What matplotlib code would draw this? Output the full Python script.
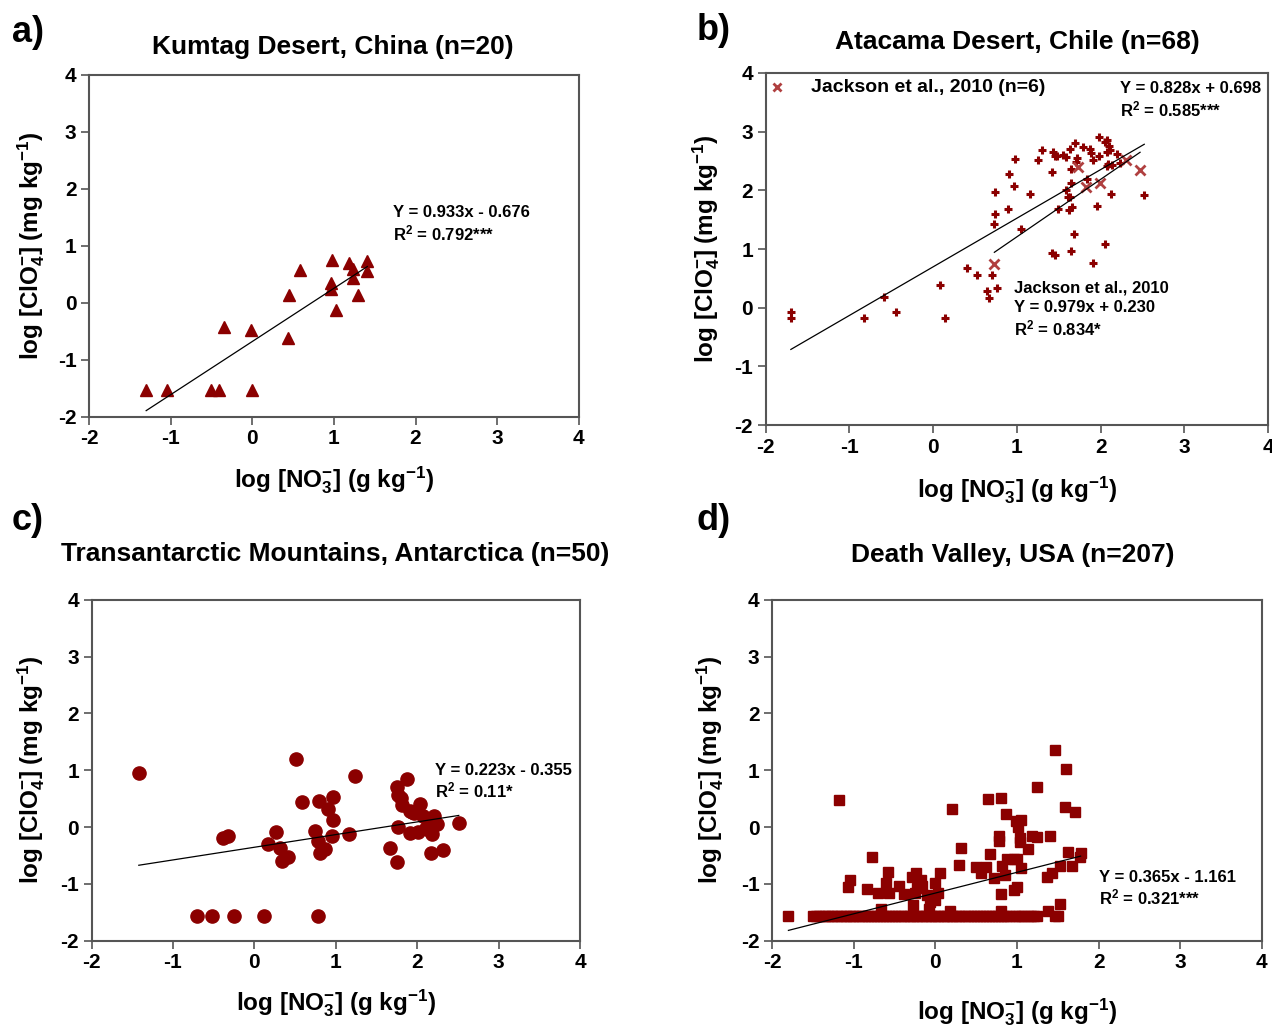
import matplotlib
matplotlib.use("Agg")
import matplotlib.pyplot as plt
import numpy as np

plt.rcParams['font.family'] = ['Liberation Sans', 'DejaVu Sans']
plt.rcParams['font.weight'] = 'bold'
plt.rcParams['mathtext.fontset'] = 'custom'
plt.rcParams['mathtext.rm'] = 'Liberation Sans:bold'
plt.rcParams['mathtext.it'] = 'Liberation Sans:bold'
plt.rcParams['mathtext.bf'] = 'Liberation Sans:bold'
plt.rcParams['mathtext.default'] = 'rm'

RED = '#8b0000'
XRED = '#b04040'
SPINE = '#555555'

# a) Kumtag Desert
kum_x = [-1.30, -1.05, -0.51, -0.41, 0.00, -0.35, -0.02, 0.44, 0.45, 0.59,
         0.98, 0.96, 0.97, 1.02, 1.19, 1.24, 1.23, 1.29, 1.40, 1.41]
kum_y = [-1.53, -1.53, -1.53, -1.53, -1.53, -0.42, -0.48, -0.61, 0.14, 0.58,
         0.75, 0.35, 0.25, -0.12, 0.70, 0.59, 0.43, 0.14, 0.73, 0.56]
kum_fit = (0.933, -0.676)

# b) Atacama Desert
ata_x = [-1.70, -1.70, -0.83, -0.59, -0.45, 0.08, 0.14, 0.40, 0.52, 0.70,
         0.64, 0.67, 0.76, 0.74, 0.74, 0.72, 0.89, 0.90, 0.96, 0.98,
         1.05, 1.16, 1.25, 1.30, 1.42, 1.43, 1.46, 1.48, 1.55, 1.58,
         1.63, 1.69, 1.70, 1.64, 1.64, 1.58, 1.63, 1.61, 1.49, 1.62,
         1.66, 1.68, 1.65, 1.42, 1.45, 1.79, 1.87, 1.89, 1.91, 1.98,
         1.98, 2.05, 2.10, 2.08, 2.11, 2.19, 2.07, 2.09, 2.14, 2.23,
         1.84, 1.96, 2.12, 2.52, 2.05, 1.91, 2.07, 1.72]
ata_y = [-0.07, -0.18, -0.17, 0.18, -0.08, 0.38, -0.18, 0.67, 0.56, 0.56,
         0.29, 0.17, 0.33, 1.97, 1.60, 1.42, 1.69, 2.28, 2.08, 2.54,
         1.34, 1.93, 2.51, 2.68, 2.31, 2.66, 2.58, 2.59, 2.61, 2.57,
         2.70, 2.80, 2.49, 2.36, 2.12, 2.01, 1.89, 1.88, 1.68, 1.67,
         1.72, 1.25, 0.97, 0.94, 0.90, 2.73, 2.70, 2.63, 2.52, 2.58,
         2.91, 2.82, 2.76, 2.66, 2.68, 2.62, 2.42, 2.45, 2.43, 2.46,
         2.20, 1.73, 1.94, 1.92, 1.08, 0.76, 2.85, 2.55]
ata_fit = (0.828, 0.698)

jack_x = [0.73, 1.73, 1.83, 1.99, 2.30, 2.47]
jack_y = [0.74, 2.39, 2.05, 2.12, 2.52, 2.35]
jack_fit = (0.979, 0.230)

# c) Transantarctic Mountains
tam_x = [-1.42, -0.70, -0.52, -0.25, 0.12, 0.78, -0.38, -0.33, 0.17, 0.26,
         0.31, 0.34, 0.41, 0.51, 0.58, 0.75, 0.78, 0.79, 0.81, 0.87,
         0.90, 0.95, 0.97, 0.97, 1.16, 1.23, 1.66, 1.75, 1.75, 1.76,
         1.80, 1.81, 1.77, 1.88, 1.91, 1.91, 1.96, 2.01, 2.04, 2.07,
         2.11, 2.17, 2.18, 2.21, 2.24, 2.32, 2.51, 2.15, 2.13, 1.93]
tam_y = [0.95, -1.56, -1.56, -1.56, -1.56, -1.56, -0.20, -0.16, -0.29, -0.08,
         -0.36, -0.60, -0.53, 1.19, 0.44, -0.07, -0.25, 0.46, -0.46, -0.39,
         0.32, -0.15, 0.13, 0.53, -0.12, 0.90, -0.36, -0.61, 0.70, 0.56,
         0.51, 0.39, 0.00, 0.84, -0.11, 0.28, 0.25, -0.08, 0.40, 0.19,
         -0.01, -0.46, -0.13, 0.19, 0.06, -0.41, 0.08, -0.05, 0.02, 0.27]
tam_fit = (0.223, -0.355)

# d) Death Valley
dv_x = [-1.18, -0.78, -1.05, -1.07, -0.84, -0.70, -0.58, -0.60, -0.57, -0.45,
        -0.38, -0.28, -0.24, -0.17, -0.23, -0.16, -0.25, -0.27, -0.10, -0.06,
        0.00, 0.00, 0.03, 0.06, 0.20, 0.31, 0.29, 0.50, 0.56, 0.62,
        0.64, 0.67, 0.80, 0.78, 0.78, 0.72, 0.81, 0.86, 0.82, 0.85,
        0.88, 0.96, 1.00, 0.99, 1.01, 1.05, 1.04, 1.04, 1.05, 1.00,
        0.96, 1.13, 1.18, 1.24, 1.24, 1.40, 1.37, 1.43, 1.47, 1.60,
        1.59, 1.71, 1.62, 1.53, 1.67, 1.53, 1.78, 1.77, 1.38, -0.66,
        0.18, 0.80, -0.08,
        -1.80, -1.50, -1.46, -1.42, -1.38, -1.35, -1.31, -1.27, -1.24, -1.20,
        -1.16, -1.12, -1.09, -1.05, -1.01, -0.98, -0.94, -0.90, -0.86, -0.83,
        -0.79, -0.75, -0.72, -0.68, -0.64, -0.60, -0.57, -0.53, -0.49, -0.46,
        -0.42, -0.38, -0.34, -0.31, -0.27, -0.23, -0.20, -0.16, -0.12, -0.08,
        -0.05, -0.01, 0.03, 0.06, 0.10, 0.14, 0.18, 0.21, 0.25, 0.29,
        0.32, 0.36, 0.40, 0.44, 0.47, 0.51, 0.55, 0.58, 0.62, 0.66,
        0.70, 0.73, 0.77, 0.81, 0.84, 0.88, 0.91, 0.97, 1.01, 1.05,
        1.09, 1.13, 1.17, 1.21, 1.25, 1.47, 1.50]
dv_y = [0.48, -0.52, -0.94, -1.06, -1.09, -1.16, -0.79, -0.99, -1.16, -1.04,
        -1.18, -0.88, -0.81, -0.93, -1.07, -1.04, -1.16, -1.37, -1.19, -1.31,
        -1.28, -0.99, -1.16, -0.81, 0.32, -0.36, -0.67, -0.70, -0.80, -0.70,
        0.49, -0.47, 0.52, -0.15, -0.25, -0.90, -1.18, 0.23, -0.68, -0.84,
        -0.57, -0.57, -0.56, 0.10, 0.01, 0.13, -0.19, -0.27, -0.72, -1.06,
        -1.11, -0.39, -0.16, -0.18, 0.70, -0.15, -0.87, -0.81, 1.36, 1.02,
        0.35, 0.27, -0.44, -0.68, -0.69, -1.35, -0.46, -0.53, -1.47, -1.45,
        -1.47, -1.47, -1.45,
        -1.57, -1.57, -1.57, -1.57, -1.57, -1.57, -1.57, -1.57, -1.57, -1.57,
        -1.57, -1.57, -1.57, -1.57, -1.57, -1.57, -1.57, -1.57, -1.57, -1.57,
        -1.57, -1.57, -1.57, -1.57, -1.57, -1.57, -1.57, -1.57, -1.57, -1.57,
        -1.57, -1.57, -1.57, -1.57, -1.57, -1.57, -1.57, -1.57, -1.57, -1.57,
        -1.57, -1.57, -1.57, -1.57, -1.57, -1.57, -1.57, -1.57, -1.57, -1.57,
        -1.57, -1.57, -1.57, -1.57, -1.57, -1.57, -1.57, -1.57, -1.57, -1.57,
        -1.57, -1.57, -1.57, -1.57, -1.57, -1.57, -1.57, -1.57, -1.57, -1.57,
        -1.57, -1.57, -1.57, -1.57, -1.57, -1.57, -1.57]
dv_fit = (0.365, -1.161)

ticks = [-2, -1, 0, 1, 2, 3, 4]
YLAB = r'log [ClO$_4^{\mathbf{-}}$] (mg kg$^{-1}$)'
XLAB = r'log [NO$_3^{\mathbf{-}}$] (g kg$^{-1}$)'

W, H = 1272, 1027
fig = plt.figure(figsize=(W / 100, H / 100), dpi=100)


def style(ax, title, tpos, xlab_y, ylab_x):
    ax.set_xlim(-2, 4)
    ax.set_ylim(-2, 4)
    ax.set_xticks(ticks)
    ax.set_yticks(ticks)
    ax.set_xticklabels([str(t) for t in ticks], fontsize=15, fontweight='bold')
    ax.set_yticklabels([str(t) for t in ticks], fontsize=15, fontweight='bold')
    for s in ax.spines.values():
        s.set_color(SPINE)
        s.set_linewidth(1.5)
    ax.tick_params(direction='out', length=6, width=1.2, color=SPINE, pad=3)
    fig.text(tpos[0] / W, 1 - tpos[1] / H, title, fontsize=19,
             fontweight='bold', ha='center', va='center')
    ax.set_ylabel(YLAB, fontsize=17.5, fontweight='bold', va='center')
    ax.yaxis.set_label_coords(ylab_x, 0.5)
    ax.set_xlabel(XLAB, fontsize=17.5, fontweight='bold', va='center')
    ax.xaxis.set_label_coords(0.5, xlab_y)


def fit_line(ax, xs, fit):
    xx = np.array([min(xs), max(xs)])
    ax.plot(xx, fit[0] * xx + fit[1], color='black', lw=0.9)


FS = 12

# a)
ax = fig.add_axes([0.070, 0.594, 0.385, 0.333])
style(ax, 'Kumtag Desert, China (n=20)', (333, 47), -0.184, -0.118)
ax.plot(kum_x, kum_y, '^', ms=9, color=RED, mec=RED)
fit_line(ax, kum_x, kum_fit)
ax.text(1.72, 1.58, 'Y = 0.933x - 0.676', fontsize=FS, va='center')
ax.text(1.72, 1.22, r'R$^2$ = 0.792***', fontsize=FS, va='center')

# b)
ax = fig.add_axes([0.602, 0.586, 0.395, 0.343])
style(ax, 'Atacama Desert, Chile (n=68)', (1017, 42), -0.185, -0.118)
ax.plot(ata_x, ata_y, '+', ms=6, mew=2.2, color=RED)
ax.plot(jack_x, jack_y, 'x', ms=7, mew=2, color=XRED)
fit_line(ax, ata_x, ata_fit)
fit_line(ax, jack_x, jack_fit)
ax.plot([-1.86], [3.76], 'x', ms=6, mew=2, color=XRED)
ax.text(-1.46, 3.76, 'Jackson et al., 2010 (n=6)', fontsize=14, va='center')
ax.text(2.23, 3.73, 'Y = 0.828x + 0.698', fontsize=FS, va='center')
ax.text(2.23, 3.37, r'R$^2$ = 0.585***', fontsize=FS, va='center')
ax.text(0.96, 0.34, 'Jackson et al., 2010', fontsize=FS, va='center')
ax.text(0.96, 0.01, 'Y = 0.979x + 0.230', fontsize=FS, va='center')
ax.text(0.96, -0.35, r'R$^2$ = 0.834*', fontsize=FS, va='center')

# c)
ax = fig.add_axes([0.072, 0.084, 0.384, 0.332])
style(ax, 'Transantarctic Mountains, Antarctica (n=50)', (335, 554), -0.182, -0.124)
ax.plot(tam_x, tam_y, 'o', ms=9.5, color=RED)
fit_line(ax, tam_x, tam_fit)
ax.text(2.22, 1.0, 'Y = 0.223x - 0.355', fontsize=FS, va='center')
ax.text(2.22, 0.65, r'R$^2$ = 0.11*', fontsize=FS, va='center')

# d)
ax = fig.add_axes([0.607, 0.084, 0.385, 0.332])
style(ax, 'Death Valley, USA (n=207)', (1013, 555), -0.208, -0.126)
ax.plot(dv_x, dv_y, 's', ms=7.5, color=RED)
fit_line(ax, dv_x, dv_fit)
ax.text(2.0, -0.89, 'Y = 0.365x - 1.161', fontsize=FS, va='center')
ax.text(2.0, -1.24, r'R$^2$ = 0.321***', fontsize=FS, va='center')

for lab, x, y in [('a)', 12, 32), ('b)', 697, 30), ('c)', 12, 520), ('d)', 697, 520)]:
    fig.text(x / W, 1 - y / H, lab, fontsize=26, fontweight='bold', va='center')

fig.savefig('out.png', dpi=100)
